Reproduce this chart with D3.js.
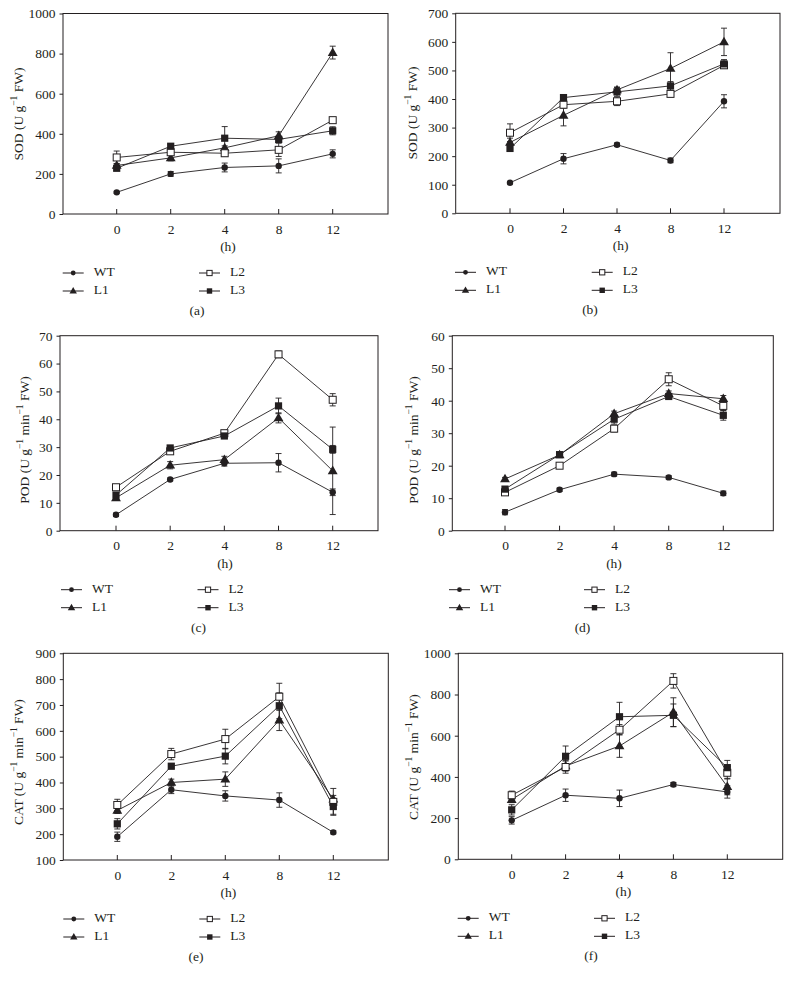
<!DOCTYPE html>
<html><head><meta charset="utf-8">
<script src="https://cdn.jsdelivr.net/npm/d3@7"></script>
<style>
html,body{margin:0;padding:0;background:#fff;}
text{font-family:"Liberation Serif","Times New Roman",serif;fill:#231f20;}
</style></head>
<body>
<svg id="chart" width="789" height="986"></svg>
<script>
// ---------- DATA ----------
const hours = ["0", "2", "4", "8", "12"];
const seriesNames = ["WT", "L1", "L2", "L3"];

// (a) SOD
const a_WT = [108, 200, 232, 240, 300];
const a_L1 = [242, 280, 330, 390, 805];
const a_L2 = [282, 308, 303, 320, 468];
const a_L3 = [228, 338, 378, 372, 415];
const a_WT_err = [5, 12, 22, 35, 20];
const a_L1_err = [10, 15, 10, 20, 32];
const a_L2_err = [32, 10, 15, 33, 12];
const a_L3_err = [10, 10, 58, 15, 20];

// (b) SOD
const b_WT = [107, 191, 240, 185, 392];
const b_L1 = [248, 343, 432, 507, 600];
const b_L2 = [282, 380, 392, 418, 518];
const b_L3 = [227, 405, 425, 446, 523];
const b_WT_err = [4, 18, 6, 8, 23];
const b_L1_err = [15, 37, 10, 55, 48];
const b_L2_err = [31, 12, 15, 10, 10];
const b_L3_err = [8, 5, 15, 15, 15];

// (c) POD
const c_WT = [5.7, 18.4, 24.2, 24.4, 13.8];
const c_L1 = [11.8, 23.5, 25.5, 40.5, 21.5];
const c_L2 = [15.6, 28.5, 35.0, 63.3, 47.0];
const c_L3 = [12.8, 29.7, 34.0, 44.8, 29.2];
const c_WT_err = [0.6, 0.5, 1.0, 3.3, 1.2];
const c_L1_err = [0.5, 1.3, 1.2, 1.8, 15.7];
const c_L2_err = [0.5, 0.8, 1.0, 1.2, 2.2];
const c_L3_err = [0.8, 0.5, 0.5, 2.8, 1.4];

// (d) POD
const d_WT = [5.7, 12.6, 17.4, 16.4, 11.5];
const d_L1 = [15.9, 23.3, 36.0, 42.2, 40.6];
const d_L2 = [11.8, 20.0, 31.4, 46.6, 38.4];
const d_L3 = [12.8, 23.4, 34.3, 41.3, 35.5];
const d_WT_err = [0.8, 0.5, 0.6, 0.5, 0.7];
const d_L1_err = [0.5, 0.6, 0.8, 0.8, 1.0];
const d_L2_err = [0.6, 0.5, 1.0, 2.0, 1.5];
const d_L3_err = [0.6, 0.8, 1.5, 0.8, 1.5];

// (e) CAT
const e_WT = [190, 372, 348, 332, 207];
const e_L1 = [292, 400, 413, 641, 335];
const e_L2 = [313, 510, 568, 732, 325];
const e_L3 = [240, 463, 502, 697, 307];
const e_WT_err = [18, 15, 20, 28, 6];
const e_L1_err = [12, 13, 28, 40, 15];
const e_L2_err = [22, 22, 38, 52, 52];
const e_L3_err = [20, 10, 30, 50, 30];

// (f) CAT
const f_WT = [189, 311, 296, 363, 327];
const f_L1 = [290, 453, 550, 714, 353];
const f_L2 = [311, 448, 629, 866, 420];
const f_L3 = [240, 500, 692, 699, 445];
const f_WT_err = [18, 30, 40, 10, 30];
const f_L1_err = [15, 25, 55, 70, 40];
const f_L2_err = [20, 30, 25, 35, 30];
const f_L3_err = [25, 50, 70, 55, 35];

const yTicksA = [0, 200, 400, 600, 800, 1000];
const yTicksB = [0, 100, 200, 300, 400, 500, 600, 700];
const yTicksC = [0, 10, 20, 30, 40, 50, 60, 70];
const yTicksD = [0, 10, 20, 30, 40, 50, 60];
const yTicksE = [100, 200, 300, 400, 500, 600, 700, 800, 900];
const yTicksF = [0, 200, 400, 600, 800, 1000];

const xAxisTitle = "(h)";

// ---------- LAYOUT ----------
const panels = [
  {letter:"(a)", enzyme:"SOD", unit:"plain", vals:[a_WT,a_L1,a_L2,a_L3], errs:[a_WT_err,a_L1_err,a_L2_err,a_L3_err], ticks:yTicksA,
   L:63, R:388, T:13.5, B:214, x0:116.7, x4:332.7, ylx:19.5, yly:114, hx:228, lx1:62.7, lx2:199, capx:197},
  {letter:"(b)", enzyme:"SOD", unit:"plain", vals:[b_WT,b_L1,b_L2,b_L3], errs:[b_WT_err,b_L1_err,b_L2_err,b_L3_err], ticks:yTicksB,
   L:455.7, R:780, T:13.3, B:213.3, x0:510, x4:724, ylx:414, yly:113, hx:620.7, lx1:455, lx2:591.7, capx:590},
  {letter:"(c)", enzyme:"POD", unit:"min", vals:[c_WT,c_L1,c_L2,c_L3], errs:[c_WT_err,c_L1_err,c_L2_err,c_L3_err], ticks:yTicksC,
   L:60, R:378, T:335.7, B:530.7, x0:116, x4:332.7, ylx:26, yly:440, hx:225, lx1:61, lx2:197.5, capx:198.5},
  {letter:"(d)", enzyme:"POD", unit:"min", vals:[d_WT,d_L1,d_L2,d_L3], errs:[d_WT_err,d_L1_err,d_L2_err,d_L3_err], ticks:yTicksD,
   L:452.3, R:773.3, T:335.7, B:530.7, x0:505, x4:723.3, ylx:415, yly:440, hx:614, lx1:449, lx2:584, capx:582.5},
  {letter:"(e)", enzyme:"CAT", unit:"min", vals:[e_WT,e_L1,e_L2,e_L3], errs:[e_WT_err,e_L1_err,e_L2_err,e_L3_err], ticks:yTicksE,
   L:63.3, R:388.3, T:653.3, B:860, x0:117.3, x4:333.3, ylx:20, yly:762, hx:228.3, lx1:63.3, lx2:199.3, capx:196},
  {letter:"(f)", enzyme:"CAT", unit:"min", vals:[f_WT,f_L1,f_L2,f_L3], errs:[f_WT_err,f_L1_err,f_L2_err,f_L3_err], ticks:yTicksF,
   L:458.3, R:782.7, T:653.3, B:859.3, x0:511.7, x4:727.3, ylx:415, yly:757, hx:623.3, lx1:457.7, lx2:594, capx:591}
];

const INK = "#231f20";
const FS = 13.5;
const svg = d3.select("#chart");

function drawMarker(g, name, x, y, s) {
  s = s || 1;
  if (name === "WT") {
    g.append("circle").attr("cx", x).attr("cy", y).attr("r", 3.2 * s).attr("fill", INK);
  } else if (name === "L1") {
    g.append("path").attr("d", d3.symbol(d3.symbolTriangle, 42 * s * s)())
      .attr("transform", `translate(${x},${y + 0.5 * s})`).attr("fill", INK);
  } else if (name === "L2") {
    const h = 3.5 * s;
    g.append("rect").attr("x", x - h).attr("y", y - h).attr("width", 2 * h).attr("height", 2 * h)
      .attr("fill", "#fff").attr("stroke", INK).attr("stroke-width", 1);
  } else {
    const h = 3.6 * s;
    g.append("rect").attr("x", x - h).attr("y", y - h).attr("width", 2 * h).attr("height", 2 * h)
      .attr("fill", INK);
  }
}

function yLabel(g, p) {
  const t = g.append("text")
    .attr("transform", `translate(${p.ylx},${p.yly}) rotate(-90)`)
    .attr("text-anchor", "middle")
    .attr("dominant-baseline", "middle")
    .attr("font-size", FS);
  t.append("tspan").text(p.enzyme + " (U g");
  t.append("tspan").attr("dy", -5).attr("font-size", 9.5).text("−1");
  if (p.unit === "min") {
    t.append("tspan").attr("dy", 5).text(" min");
    t.append("tspan").attr("dy", -5).attr("font-size", 9.5).text("−1");
  }
  t.append("tspan").attr("dy", 5).text(" FW)");
}

panels.forEach(p => {
  const g = svg.append("g");
  const x = d3.scalePoint().domain(hours).range([p.x0, p.x4]);
  const y = d3.scaleLinear().domain([p.ticks[0], p.ticks[p.ticks.length - 1]]).range([p.B, p.T]);

  // frame
  g.append("rect").attr("x", p.L).attr("y", p.T).attr("width", p.R - p.L).attr("height", p.B - p.T)
    .attr("fill", "none").attr("stroke", INK).attr("stroke-width", 1);

  // y axis
  const ya = g.append("g").attr("transform", `translate(${p.L},0)`)
    .call(d3.axisLeft(y).tickValues(p.ticks).tickSize(3.5).tickPadding(4).tickFormat(d3.format("d")));
  ya.select(".domain").remove();
  ya.selectAll("line").attr("stroke", INK);
  ya.selectAll("text").attr("font-size", FS).attr("fill", INK);

  // x axis (ticks inward)
  const xa = g.append("g").attr("transform", `translate(0,${p.B})`)
    .call(d3.axisBottom(x).tickSize(0).tickPadding(10));
  xa.select(".domain").remove();
  xa.selectAll("text").attr("font-size", FS).attr("fill", INK);
  g.selectAll(".xtick").data(hours).enter().append("line")
    .attr("x1", d => x(d)).attr("x2", d => x(d)).attr("y1", p.B).attr("y2", p.B - 5)
    .attr("stroke", INK).attr("stroke-width", 1);

  // axis titles
  g.append("text").attr("x", p.hx).attr("y", p.B + 34).attr("text-anchor", "middle")
    .attr("dominant-baseline", "middle").attr("font-size", FS).text(xAxisTitle);
  yLabel(g, p);

  // lines
  const line = d3.line().x((d, i) => x(hours[i])).y(d => y(d));
  p.vals.forEach(v => {
    g.append("path").attr("d", line(v)).attr("fill", "none").attr("stroke", INK).attr("stroke-width", 0.9);
  });
  // error bars
  p.vals.forEach((v, si) => {
    v.forEach((d, i) => {
      const e = p.errs[si][i];
      const cx = x(hours[i]);
      const eg = g.append("g").attr("stroke", INK).attr("stroke-width", 0.9);
      eg.append("line").attr("x1", cx).attr("x2", cx).attr("y1", y(d - e)).attr("y2", y(d + e));
      eg.append("line").attr("x1", cx - 3).attr("x2", cx + 3).attr("y1", y(d - e)).attr("y2", y(d - e));
      eg.append("line").attr("x1", cx - 3).attr("x2", cx + 3).attr("y1", y(d + e)).attr("y2", y(d + e));
    });
  });
  // markers
  p.vals.forEach((v, si) => {
    v.forEach((d, i) => drawMarker(g, seriesNames[si], x(hours[i]), y(d)));
  });

  // legend
  const rows = [p.B + 59, p.B + 77];
  const legPos = [[p.lx1, rows[0]], [p.lx1, rows[1]], [p.lx2, rows[0]], [p.lx2, rows[1]]];
  seriesNames.forEach((n, si) => {
    const [lx, ly] = legPos[si];
    g.append("line").attr("x1", lx).attr("x2", lx + 21).attr("y1", ly).attr("y2", ly)
      .attr("stroke", INK).attr("stroke-width", 1);
    drawMarker(g, n, lx + 10.5, ly, 0.75);
    g.append("text").attr("x", lx + 31).attr("y", ly).attr("dominant-baseline", "middle")
      .attr("font-size", FS).text(n);
  });

  // panel letter
  g.append("text").attr("x", p.capx).attr("y", p.B + 98).attr("text-anchor", "middle")
    .attr("dominant-baseline", "middle").attr("font-size", FS).text(p.letter);
});
</script>
</body></html>
